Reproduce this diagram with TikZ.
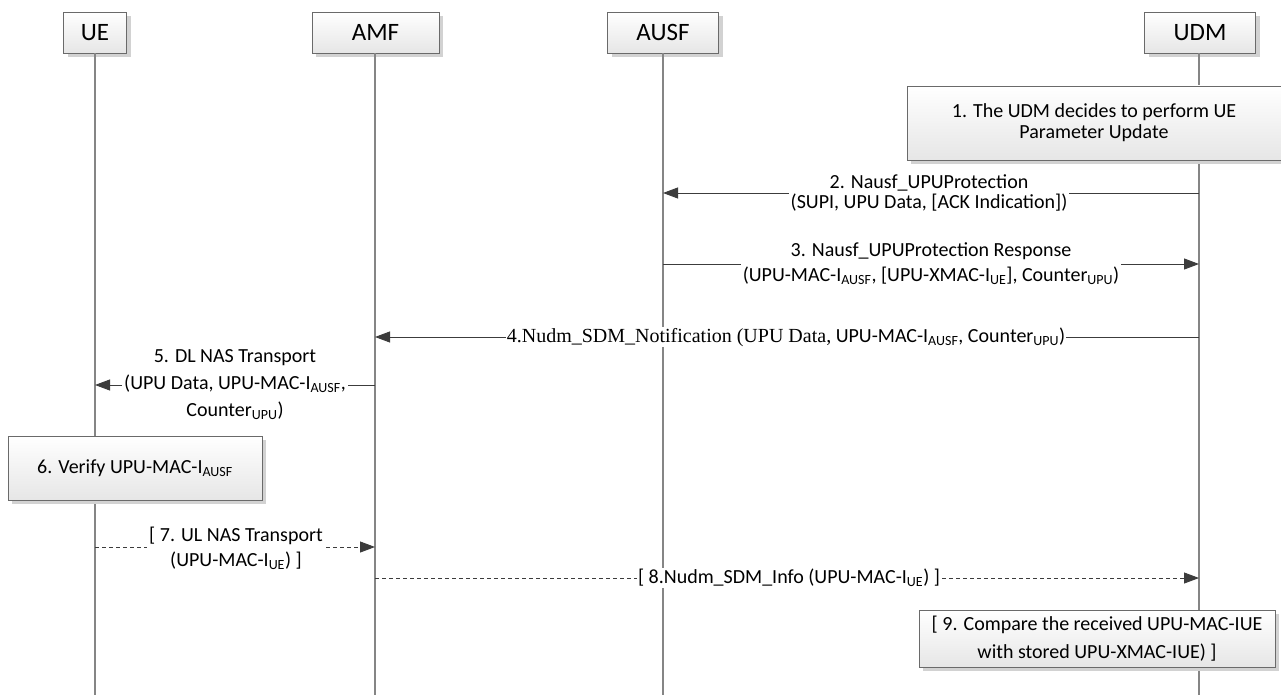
\documentclass[tikz,border=0pt]{standalone}
\usepackage{fontspec}
\setmainfont{Carlito}
\newfontfamily\tnr{Liberation Serif}
\usetikzlibrary{arrows.meta,shadows}
\definecolor{lifegray}{HTML}{858585}
\definecolor{linegray}{HTML}{3C3C3C}
\definecolor{boxedge}{HTML}{6A6A6A}
\definecolor{shadowgray}{HTML}{D2D2D2}
\definecolor{boxbottom}{HTML}{E6E6E6}
\begin{document}
\begin{tikzpicture}[x=1pt,y=-1pt,
  every node/.style={font=\fontsize{20}{20}\selectfont, align=center, text=black},
  boxbase/.style={draw=boxedge, line width=0.9pt, top color=white, bottom color=boxbottom,
    drop shadow={shadow xshift=4pt, shadow yshift=-4pt, fill=shadowgray, opacity=1},
    inner sep=0pt},
  actor/.style={boxbase, font=\fontsize{25}{25}\selectfont, minimum height=41},
  stepbox/.style={boxbase},
  life/.style={draw=lifegray, line width=1.1pt},
  msg/.style={draw=linegray, line width=0.9pt, -{Triangle[length=15pt,width=11pt]}},
  dmsg/.style={msg, dash pattern=on 4pt off 3pt},
  lbl/.style={fill=white, inner sep=2pt}
]
\fill[white] (0,0) rectangle (1281,695);
\useasboundingbox (0,0) rectangle (1281,695);

% lifeline bottom ends
\coordinate (ueEnd) at (95,695);
\coordinate (amfEnd) at (375,695);
\coordinate (ausfEnd) at (663,695);
\coordinate (udmEnd) at (1199,695);

% headers
\node[actor, minimum width=63] (hUE) at (95,32.5) {UE};
\node[actor, minimum width=127] (hAMF) at (375.5,32.5) {AMF};
\node[actor, minimum width=111] (hAUSF) at (663,32.5) {AUSF};
\node[actor, minimum width=111] (hUDM) at (1200,32.5) {UDM};

% lifelines
\draw[life] (hUE.south -| ueEnd) -- (ueEnd);
\draw[life] (hAMF.south -| amfEnd) -- (amfEnd);
\draw[life] (hAUSF.south -| ausfEnd) -- (ausfEnd);
\draw[life] (hUDM.south -| udmEnd) -- (udmEnd);

% step boxes
\node[stepbox, minimum width=374, minimum height=74, font=\fontsize{20}{21}\selectfont] (b1) at (1094,123)
  {1. The UDM decides to perform UE\\Parameter Update};
\node[stepbox, minimum width=254, minimum height=64] (b6) at (135,468)
  {6. Verify UPU-MAC-I\textsubscript{AUSF}};
\node[stepbox, minimum width=356, minimum height=57, font=\fontsize{20}{28}\selectfont] (b9) at (1097,638.5)
  {[ 9. Compare the received UPU-MAC-IUE\\with stored UPU-XMAC-IUE) ]};

% message end points
\coordinate (m2s) at (1199,193);  \coordinate (m2e) at (663,193);
\coordinate (m3s) at (663,264);   \coordinate (m3e) at (1199,264);
\coordinate (m4s) at (1199,337);  \coordinate (m4e) at (375,337);
\coordinate (m5s) at (375,385);   \coordinate (m5e) at (95,385);
\coordinate (m7s) at (95,547);    \coordinate (m7e) at (375,547);
\coordinate (m8s) at (375,578);   \coordinate (m8e) at (1199,578);

\draw[msg] (m2s) -- (m2e);
\draw[msg] (m3s) -- (m3e);
\draw[msg] (m4s) -- (m4e);
\draw[msg] (m5s) -- (m5e);
\draw[dmsg] (m7s) -- (m7e);
\draw[dmsg] (m8s) -- (m8e);

% labels
\node[lbl, font=\fontsize{20}{20}\selectfont] (l2) at (929,193)
  {2. Nausf\_UPUProtection\\(SUPI, UPU Data, [ACK Indication])};
\node[lbl, font=\fontsize{20}{25}\selectfont] (l3) at (931,264)
  {3. Nausf\_UPUProtection Response\\(UPU-MAC-I\textsubscript{AUSF}, [UPU-XMAC-I\textsubscript{UE}], Counter\textsubscript{UPU})};
\node[lbl, inner sep=1pt] (l4) at (786,337)
  {{\tnr 4.Nudm\_SDM\_Notification (UPU Data,} UPU-MAC-I\textsubscript{AUSF}, Counter\textsubscript{UPU})};
\node[lbl, font=\fontsize{20}{27}\selectfont] (l5) at (235,385)
  {5. DL NAS Transport\\(UPU Data, UPU-MAC-I\textsubscript{AUSF},\\Counter\textsubscript{UPU})};
\node[lbl, font=\fontsize{20}{25}\selectfont] (l7) at (236,548)
  {[ 7. UL NAS Transport\\(UPU-MAC-I\textsubscript{UE}) ]};
\node[lbl, inner sep=1pt] (l8) at (789,578)
  {[ 8.Nudm\_SDM\_Info (UPU-MAC-I\textsubscript{UE}) ]};
\end{tikzpicture}
\end{document}
